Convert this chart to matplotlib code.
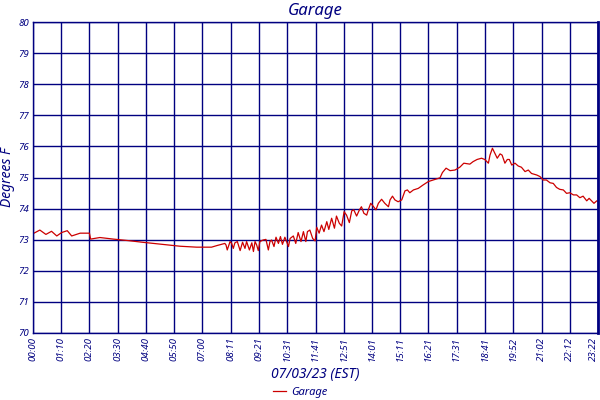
import matplotlib
matplotlib.use("Agg")
import matplotlib.pyplot as plt

# time in minutes after midnight, temperature in deg F
times = [0, 1, 17, 32, 46, 59, 71, 85, 96, 117, 140, 143, 166, 199, 237, 270, 315, 365, 406, 443, 456,
         476, 479, 482, 489, 493, 497, 501, 507, 514, 520, 526, 530, 537, 543, 547, 551, 555, 559, 563,
         571, 578, 584, 588, 592, 598, 603, 609, 614, 619, 625, 634, 638, 646, 652, 658, 665, 671, 677,
         681, 687, 694, 700, 704, 710, 716, 722, 729, 734, 741, 748, 753, 760, 766, 772, 778, 785, 791,
         796, 803, 810, 815, 821, 828, 832, 838, 844, 851, 857, 865, 873, 882, 886, 892, 898, 906, 915,
         923, 929, 935, 944, 956, 968, 981, 993, 1010, 1016, 1025, 1035, 1047, 1059, 1069, 1084, 1092,
         1102, 1113, 1121, 1130, 1134, 1140, 1146, 1152, 1159, 1164, 1171, 1177, 1182, 1188, 1196, 1204,
         1212, 1221, 1229, 1237, 1250, 1258, 1266, 1274, 1283, 1291, 1299, 1307, 1316, 1324, 1332, 1341,
         1349, 1357, 1365, 1374, 1380, 1392, 1399, 1405]
temps = [73.30, 73.20, 73.31, 73.17, 73.27, 73.12, 73.23, 73.29, 73.12, 73.21, 73.21, 73.02, 73.07, 73.02,
         72.97, 72.92, 72.86, 72.79, 72.76, 72.76, 72.81,
         72.88, 72.83, 72.67, 72.94, 72.88, 72.72, 72.90, 72.94, 72.65, 72.92, 72.72, 72.94, 72.67, 72.90,
         72.62, 72.94, 72.83, 72.65, 72.94, 72.99, 73.01, 72.67, 72.94, 72.99, 72.78, 73.08, 72.88, 73.10,
         72.85, 73.08, 72.78, 73.04, 73.12, 72.88, 73.23, 72.94, 73.26, 72.94, 73.26, 73.31, 73.04, 72.96,
         73.40, 73.21, 73.47, 73.26, 73.58, 73.33, 73.69, 73.37, 73.76, 73.53, 73.44, 73.90, 73.79, 73.55,
         73.93, 73.96, 73.76, 73.96, 74.06, 73.85, 73.79, 73.96, 74.17, 74.08, 73.96, 74.17, 74.30, 74.17,
         74.06, 74.28, 74.40, 74.28, 74.22, 74.28,
         74.57, 74.60, 74.51, 74.60, 74.65, 74.76, 74.87, 74.92, 74.99, 75.16, 75.30, 75.22, 75.24, 75.33,
         75.46, 75.43, 75.51, 75.58, 75.62, 75.58, 75.46, 75.72, 75.94, 75.78, 75.62, 75.76, 75.72, 75.46,
         75.58, 75.58, 75.40, 75.46, 75.37, 75.33, 75.19, 75.24, 75.13, 75.08, 75.03, 74.92, 74.92, 74.83,
         74.81, 74.68, 74.62, 74.60, 74.49, 74.51, 74.44, 74.44, 74.35, 74.40, 74.25, 74.33, 74.17, 74.25,
         74.22]

x_tick_labels = ["00:00", "01:10", "02:20", "03:30", "04:40", "05:50", "07:00", "08:11", "09:21",
                 "10:31", "11:41", "12:51", "14:01", "15:11", "16:21", "17:31", "18:41", "19:52",
                 "21:02", "22:12", "23:22"]
y_ticks = [70, 71, 72, 73, 74, 75, 76, 77, 78, 79, 80]

title = "Garage"
x_label = "07/03/23 (EST)"
y_label = "Degrees F"
series_name = "Garage"

navy = "#000080"
red = "#CC0000"
fam = ["Noto Sans", "DejaVu Sans"]

def to_min(s):
    h, m = s.split(":")
    return int(h) * 60 + int(m)

x_ticks = [to_min(s) for s in x_tick_labels]

fig = plt.figure(figsize=(6, 4), dpi=100)
ax = fig.add_axes([33 / 600, 67 / 400, 565 / 600, 311 / 400])

line, = ax.plot(times, temps, color=red, lw=0.9, label=series_name)

ax.set_xlim(x_ticks[0], x_ticks[-1])
ax.set_ylim(y_ticks[0], y_ticks[-1])
ax.set_xticks(x_ticks)
ax.set_xticklabels(x_tick_labels, rotation=90, fontsize=7, style="italic", color=navy, family=fam)
ax.get_xticklabels()[-1].set_horizontalalignment("right")
ax.set_yticks(y_ticks)
ax.set_yticklabels([str(v) for v in y_ticks], fontsize=7, style="italic", color=navy, family=fam)
ax.tick_params(axis="both", length=0, pad=3)
ax.grid(True, color=navy, lw=1.0)
ax.set_axisbelow(True)
for sp in ax.spines.values():
    sp.set_color(navy)
    sp.set_linewidth(1.0)
ax.spines["right"].set_linewidth(2.0)

ax.set_title(title, fontsize=12, style="italic", fontweight="semibold", color=navy, family=fam, pad=5)
ax.set_xlabel(x_label, fontsize=10, style="italic", color=navy, family=fam, labelpad=4)
fig.text(8 / 600, 1 - 177 / 400, y_label, rotation=90, ha="center", va="center",
         fontsize=10, style="italic", color=navy, family=fam)

fig.legend(handles=[line], loc="lower center", bbox_to_anchor=(0.5, -0.02), frameon=False,
           prop={"family": fam, "style": "italic", "size": 8}, labelcolor=navy,
           handlelength=1.2, handletextpad=0.4)

fig.savefig("out.png", dpi=100)
